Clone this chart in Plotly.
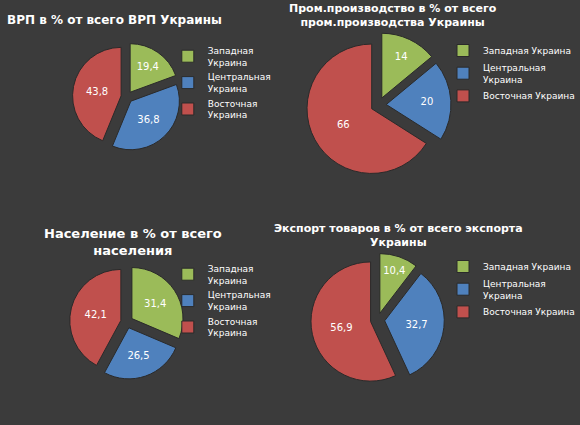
import plotly.graph_objects as go

W, H = 580, 425
regions_short = ["Западная<br>Украина", "Центральная<br>Украина", "Восточная<br>Украина"]
regions_long = ["Западная Украина", "Центральная<br>Украина", "Восточная Украина"]
colors = ["#9bbb59", "#4f81bd", "#c0504d"]

gdp = [19.4, 36.8, 43.8]
industry = [14, 20, 66]
population = [31.4, 26.5, 42.1]
export = [10.4, 32.7, 56.9]

def fmt(v):
    return [str(x).replace(".", ",") for x in v]

def dom(cx, cy, r):
    return dict(x=[(cx - r) / W, (cx + r) / W], y=[1 - (cy + r) / H, 1 - (cy - r) / H])

panels = [
    (gdp, regions_short, (133, 97, 57), "legend", (176, 38)),
    (industry, regions_long, (397, 105, 76), "legend2", (465, 36)),
    (population, regions_short, (133, 322, 60), "legend3", (176, 256)),
    (export, regions_long, (396, 320, 70), "legend4", (465, 252)),
]

fig = go.Figure()
layout_legends = {}
for i, (vals, labels, (cx, cy, r), leg, (lx, ly)) in enumerate(panels):
    # pie legend entries are shared by label, so make each panel's labels unique
    uniq = [lab + "\u200b" * i for lab in labels]
    fig.add_trace(go.Pie(
        values=vals, labels=uniq, text=fmt(vals), textinfo="text",
        sort=False, direction="clockwise", pull=0.12,
        marker=dict(colors=colors, line=dict(color="#2a2a2a", width=1)),
        textfont=dict(color="white", size=10), textposition="inside",
        insidetextorientation="horizontal",
        domain=dom(cx, cy, r), legend=leg, hoverinfo="label+value",
    ))
    layout_legends[leg] = dict(
        x=lx / W, y=1 - ly / H, xanchor="left", yanchor="top",
        bgcolor="rgba(0,0,0,0)", font=dict(color="white", size=9),
        tracegroupgap=2, itemwidth=30,
    )

titles = [
    ("ВРП в % от всего ВРП Украины", 120, 20, 12),
    ("Пром.производство в % от всего<br>пром.производства Украины", 412, 16, 11),
    ("Население в % от всего<br>населения", 140, 242, 13),
    ("Экспорт товаров в % от всего экспорта<br>Украины", 418, 235, 11),
]
annotations = [
    dict(text=f"<b>{t}</b>", x=x / W, y=1 - y / H, xref="paper", yref="paper",
         xanchor="center", yanchor="middle", showarrow=False,
         font=dict(color="white", size=s))
    for t, x, y, s in titles
]

fig.update_layout(
    width=W, height=H, margin=dict(l=0, r=0, t=0, b=0),
    paper_bgcolor="#3b3b3b", plot_bgcolor="#3b3b3b",
    font=dict(family="DejaVu Sans", color="white"),
    annotations=annotations, **layout_legends,
)
fig.write_html("out.html", config={"displayModeBar": False},
               post_script="document.body.style.margin='0';document.body.style.background='#3b3b3b';document.body.style.overflow='hidden';")
